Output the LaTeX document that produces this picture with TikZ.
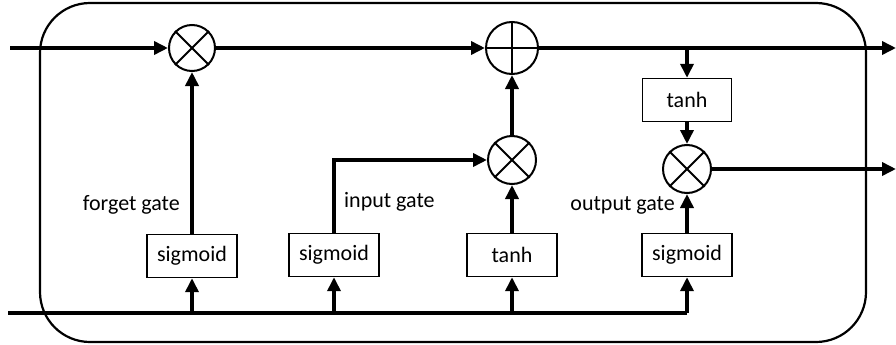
\documentclass[tikz,border=0pt]{standalone}
\usepackage{fontspec}
\setmainfont{Carlito}
\usetikzlibrary{arrows.meta}
\begin{document}
\begin{tikzpicture}[x=1pt,y=-1pt,
  flow/.style={line width=3.8pt,-{Triangle[length=14pt,width=13pt]}},
  plainflow/.style={line width=3.8pt},
  fbox/.style={draw,line width=1.4pt,minimum width=90pt,minimum height=43pt,inner sep=0pt,font=\fontsize{22}{26}\selectfont},
  gate/.style={draw,circle,line width=2pt,inner sep=0pt},
  lbl/.style={inner sep=0pt,font=\fontsize{22}{26}\selectfont}]
\useasboundingbox (0,0) rectangle (896,345);
\draw[line width=2.2pt,rounded corners=50pt] (40,3) rectangle (866,342);
% gates
\node[gate,minimum size=46pt] (fx) at (192,48) {};
\node[gate,minimum size=52pt] (pl) at (512,48) {};
\node[gate,minimum size=48pt] (ix) at (512,160) {};
\node[gate,minimum size=48pt] (ox) at (687,169) {};
\foreach \g in {fx,ix,ox}{
  \draw[line width=2pt] (\g.north west) -- (\g.south east);
  \draw[line width=2pt] (\g.north east) -- (\g.south west);
}
\draw[line width=2pt] (pl.north) -- (pl.south);
\draw[line width=2pt] (pl.west) -- (pl.east);
% boxes
\node[fbox] (fs) at (192,256) {sigmoid};
\node[fbox] (is) at (334,255) {sigmoid};
\node[fbox] (it) at (512,255) {tanh};
\node[fbox] (os) at (687,255) {sigmoid};
\node[fbox,minimum width=89pt] (ot) at (687,100) {tanh};
% labels
\node[lbl,anchor=east] (lf) at (180,205) {forget gate};
\node[lbl,anchor=west] (li) at (344,202) {input gate};
\node[lbl,anchor=east] (lo) at (675,205) {output gate};
% coordinates
\coordinate (cin) at (10,48);
\coordinate (cout) at (896,48);
\coordinate (hout) at (896,169);
\coordinate (hin) at (8,313);
\coordinate (b1) at (192,313);
\coordinate (b2) at (334,313);
\coordinate (b3) at (512,313);
\coordinate (b4) at (687,313);
\coordinate (tb) at (687,48);
\coordinate (ic) at (334,160);
% top line
\draw[flow] (cin) -- (fx.west);
\draw[flow] (fx.east) -- (pl.west);
\draw[flow] (pl.east) -- (cout);
\draw[flow] (tb) -- (ot.north);
% bottom line
\draw[plainflow] (hin) -- (b4);
\draw[flow] (b4) -- (os.south);
\draw[flow] (b1) -- (fs.south);
\draw[flow] (b2) -- (is.south);
\draw[flow] (b3) -- (it.south);
% gate connections
\draw[flow] (fs.north) -- (fx.south);
\draw[flow] (is.north) -- (ic) -- (ix.west);
\draw[flow] (it.north) -- (ix.south);
\draw[flow] (ix.north) -- (pl.south);
\draw[flow] (ot.south) -- (ox.north);
\draw[flow] (os.north) -- (ox.south);
\draw[flow] (ox.east) -- (hout);
\end{tikzpicture}
\end{document}
